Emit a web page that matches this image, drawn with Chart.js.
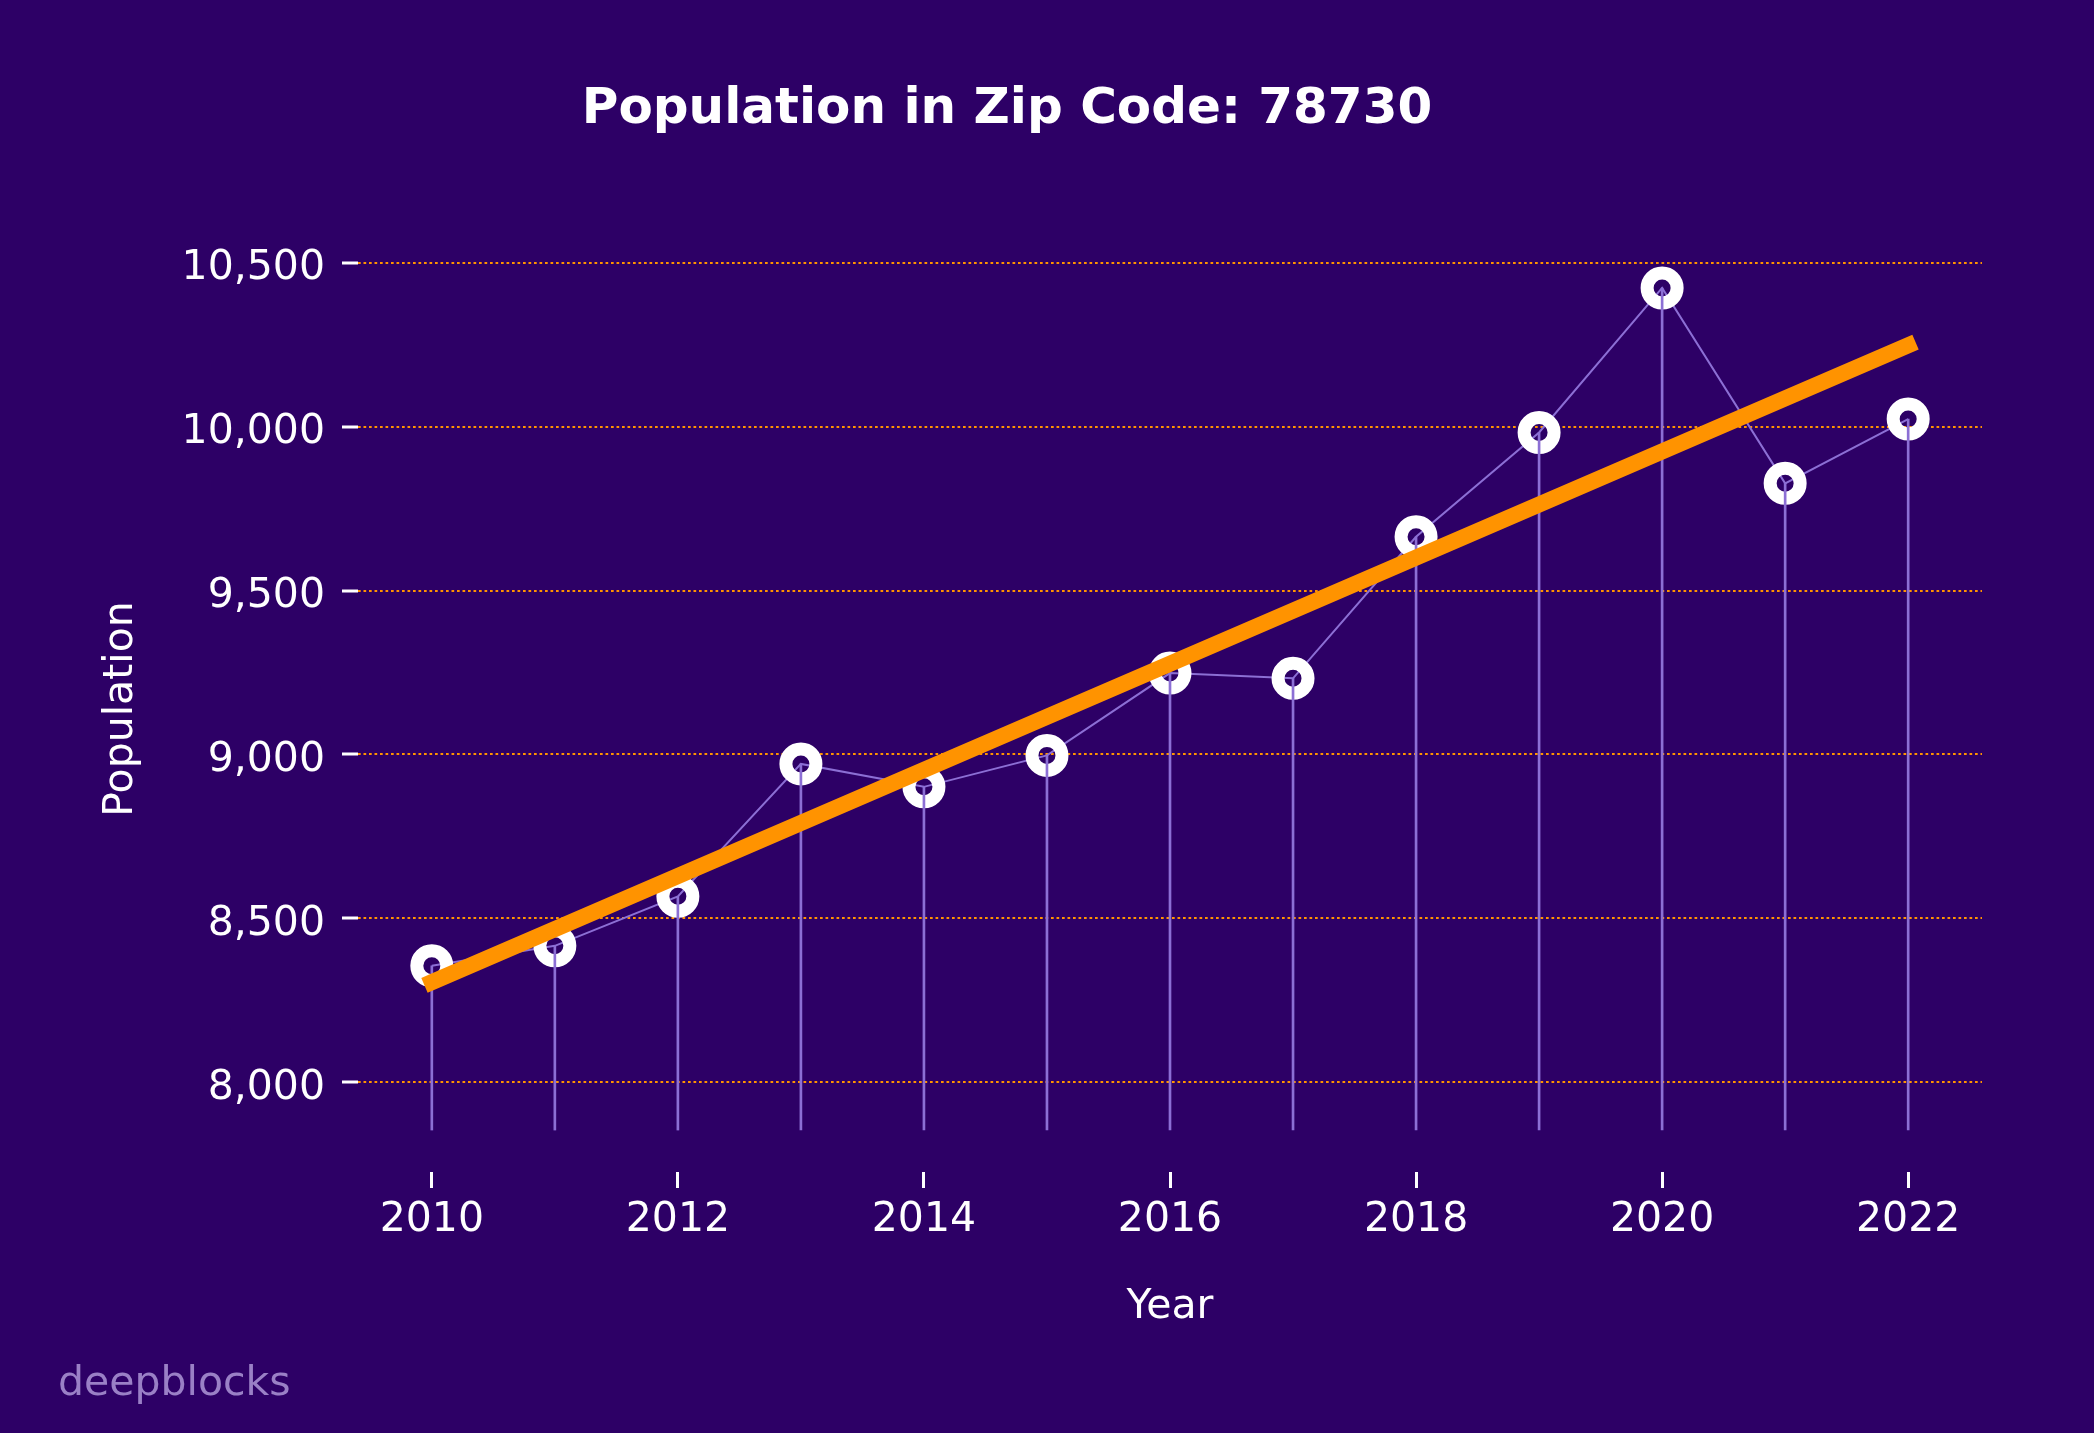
<!DOCTYPE html>
<html>
<head>
<meta charset="utf-8">
<title>Population in Zip Code: 78730</title>
<script src="https://cdn.jsdelivr.net/npm/chart.js@4"></script>
<style>
  html, body { margin: 0; padding: 0; background: #2d0066; }
  #wrap { width: 2094px; height: 1433px; }
</style>
</head>
<body>
<div id="wrap"><canvas id="myChart" width="2094" height="1433"></canvas></div>
<script>
// data
const years = [2010, 2011, 2012, 2013, 2014, 2015, 2016, 2017, 2018, 2019, 2020, 2021, 2022];
const population = [8355, 8416, 8567, 8971, 8901, 8997, 9248, 9232, 9664, 9982, 10423, 9827, 10023];
const stemBase = 7854;
const trendYears = [2010, 2022];
const trendValues = [8305, 10248];
const xTicks = [2010, 2012, 2014, 2016, 2018, 2020, 2022];
const yTicks = [8000, 8500, 9000, 9500, 10000, 10500];
const xRange = [2009.4, 2022.6];
const yRange = [7726, 10551];

const chartTitle = 'Population in Zip Code: 78730';
const xTitle = 'Year';
const yTitle = 'Population';
const watermark = 'deepblocks';

const bg = '#2d0066';
const orange = '#ff9300';
const lavender = '#8c6fd5';
const fontFamily = '"DejaVu Sans", sans-serif';

window.onload = () => {
    const textPlugin = {
        id: 'textPlugin',
        beforeDraw(chart) {
            const ctx = chart.ctx;
            ctx.save();
            ctx.fillStyle = bg;
            ctx.fillRect(0, 0, chart.width, chart.height);
            ctx.restore();
        },
        afterDraw(chart) {
            const ctx = chart.ctx;
            ctx.save();
            ctx.fillStyle = '#ffffff';
            ctx.font = 'bold 50px ' + fontFamily;
            ctx.textAlign = 'center';
            ctx.textBaseline = 'middle';
            ctx.fillText(chartTitle, 1007, 110);
            // watermark
            ctx.fillStyle = '#9a80c6';
            ctx.font = '41px ' + fontFamily;
            ctx.textAlign = 'left';
            ctx.textBaseline = 'alphabetic';
            ctx.fillText(watermark, 58, 1395);
            ctx.restore();
        }
    };

    const ctx = document.getElementById('myChart').getContext('2d');
    const myChart = new Chart(ctx, {
        data: {
            datasets: [
                {
                    // stems
                    type: 'bar',
                    data: years.map((x, i) => ({ x: x, y: [stemBase, population[i]] })),
                    backgroundColor: lavender,
                    borderWidth: 0,
                    barThickness: 2,
                    grouped: false,
                    order: 2
                },
                {
                    // markers
                    type: 'line',
                    data: years.map((x, i) => ({ x: x, y: population[i] })),
                    showLine: false,
                    pointRadius: 15,
                    pointBorderWidth: 13,
                    pointBorderColor: '#ffffff',
                    pointBackgroundColor: 'rgba(0,0,0,0)',
                    order: 3
                },
                {
                    // connecting line
                    type: 'line',
                    data: years.map((x, i) => ({ x: x, y: population[i] })),
                    borderColor: lavender,
                    borderWidth: 2,
                    pointRadius: 0,
                    tension: 0,
                    order: 4
                },
                {
                    // trend
                    type: 'line',
                    data: trendYears.map((x, i) => ({ x: x, y: trendValues[i] })),
                    borderColor: orange,
                    borderWidth: 16,
                    borderCapStyle: 'square',
                    pointRadius: 0,
                    order: 1
                }
            ]
        },
        options: {
            responsive: false,
            animation: false,
            devicePixelRatio: 1,
            layout: { padding: { left: 0, top: 246, right: 112, bottom: 0 } },
            plugins: {
                legend: { display: false },
                tooltip: { enabled: false },
                title: { display: false }
            },
            scales: {
                x: {
                    type: 'linear',
                    offset: false,
                    min: xRange[0],
                    max: xRange[1],
                    afterBuildTicks: (scale) => { scale.ticks = xTicks.map(v => ({ value: v })); },
                    afterFit: (scale) => { scale.height = 1433 - 1172; },
                    border: { display: false },
                    grid: {
                        offset: false,
                        drawOnChartArea: false,
                        drawTicks: true,
                        tickLength: 16,
                        tickColor: '#ffffff',
                        tickWidth: 3
                    },
                    ticks: {
                        color: '#ffffff',
                        padding: 8,
                        maxRotation: 0,
                        font: { family: fontFamily, size: 41 },
                        callback: (v) => String(v)
                    },
                    title: {
                        display: true,
                        text: xTitle,
                        color: '#ffffff',
                        font: { family: fontFamily, size: 41 },
                        padding: { top: 0, bottom: 101 }
                    }
                },
                y: {
                    type: 'linear',
                    min: yRange[0],
                    max: yRange[1],
                    afterBuildTicks: (scale) => { scale.ticks = yTicks.map(v => ({ value: v })); },
                    afterFit: (scale) => { scale.width = 358; },
                    border: { display: false, dash: [2.7, 2.8] },
                    grid: {
                        color: orange,
                        lineWidth: 2,
                        drawTicks: true,
                        tickLength: 16,
                        tickColor: '#ffffff',
                        tickWidth: 3,
                        tickBorderDash: [1, 0]
                    },
                    ticks: {
                        color: '#ffffff',
                        padding: 17,
                        labelOffset: 6,
                        font: { family: fontFamily, size: 41 },
                        callback: (v) => v.toLocaleString('en-US')
                    },
                    title: {
                        display: true,
                        text: yTitle,
                        color: '#ffffff',
                        font: { family: fontFamily, size: 41 },
                        padding: { top: 97, bottom: 0 }
                    }
                }
            }
        },
        plugins: [textPlugin]
    });
    myChart;
};
</script>
</body>
</html>
